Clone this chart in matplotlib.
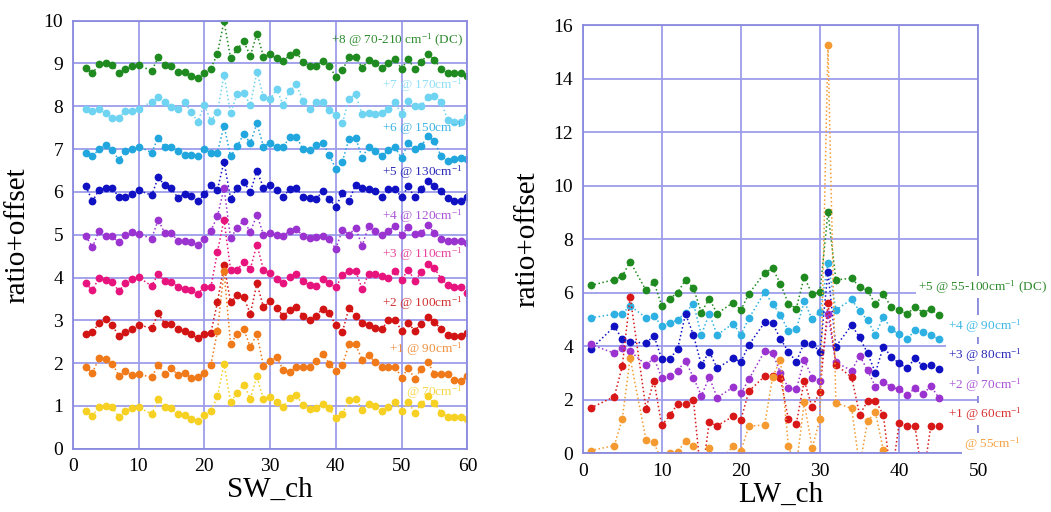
import numpy as np
import matplotlib
matplotlib.use("Agg")
import matplotlib.pyplot as plt

plt.rcParams['font.family'] = 'serif'
plt.rcParams['font.serif'] = ['Liberation Serif', 'DejaVu Serif']
plt.rcParams['mathtext.default'] = 'regular'

# ---- left panel: SW channels (11 is missing) ----
sw_ch = list(range(2, 11)) + list(range(12, 61))

sw_70_210 = [8.90, 8.77, 8.98, 9.00, 8.96, 8.77, 8.87, 8.94, 8.96,
             8.83, 9.14, 8.96, 8.94, 8.79, 8.79, 8.71, 8.67, 8.78, 8.88, 9.23, 9.99, 9.12, 9.33, 9.52, 9.17, 9.70, 9.16, 9.21,
             9.12, 9.05, 9.20, 9.26, 9.04, 8.94, 8.95, 9.06, 8.94, 8.69, 8.85, 9.14, 9.16, 8.90, 9.07, 9.00, 8.90, 9.00,
             9.10, 8.88, 9.10, 8.87, 9.03, 9.23, 9.08, 8.87, 8.78, 8.77, 8.77, 8.71]
sw_170 = [7.93, 7.89, 7.93, 7.85, 7.72, 7.72, 7.90, 7.90, 7.93,
          8.11, 8.22, 8.09, 7.99, 7.93, 8.09, 7.87, 7.64, 8.03, 7.66, 7.87, 8.73, 7.84, 8.29, 8.30, 8.03, 8.81, 8.22, 8.16,
          8.40, 8.03, 8.36, 8.51, 8.12, 7.93, 8.11, 8.09, 7.91, 7.80, 7.60, 8.18, 8.28, 7.81, 7.85, 7.81, 7.85, 7.94,
          8.09, 7.81, 8.13, 8.01, 8.01, 8.22, 8.24, 8.11, 7.68, 7.64, 7.63, 7.74]
sw_150 = [6.92, 6.83, 7.00, 7.10, 6.98, 6.75, 6.96, 7.00, 7.06,
          6.92, 7.27, 7.04, 7.04, 6.96, 6.86, 6.86, 6.83, 7.00, 6.92, 6.92, 7.55, 6.83, 7.07, 7.35, 7.14, 7.60, 7.06, 7.14,
          7.04, 7.04, 7.29, 7.29, 7.00, 6.98, 7.10, 7.15, 6.86, 6.54, 6.71, 7.24, 7.27, 6.80, 7.06, 6.96, 6.83, 6.98,
          7.04, 6.79, 7.14, 7.00, 7.07, 7.31, 7.18, 6.84, 6.73, 6.76, 6.79, 6.77]
sw_130 = [6.13, 5.78, 6.05, 6.08, 6.09, 5.88, 5.88, 5.96, 6.04,
          5.92, 6.34, 6.15, 6.08, 5.86, 5.96, 5.90, 5.78, 5.94, 6.15, 6.05, 6.71, 5.84, 6.10, 6.24, 6.00, 6.49, 6.10, 6.16,
          6.05, 5.88, 6.07, 6.09, 5.88, 5.86, 5.84, 6.01, 5.84, 5.65, 5.97, 5.78, 6.17, 6.09, 6.07, 6.01, 5.89, 6.07,
          6.07, 5.87, 6.13, 5.87, 6.07, 6.26, 6.13, 6.01, 5.86, 5.78, 5.78, 5.87]
sw_120 = [4.96, 4.71, 5.09, 4.98, 4.96, 4.82, 5.00, 5.06, 5.02,
          4.91, 5.35, 5.03, 5.03, 4.86, 4.86, 4.83, 4.77, 4.91, 5.09, 5.43, 6.09, 4.92, 5.16, 5.33, 5.06, 5.47, 5.00, 5.03,
          5.00, 4.98, 5.09, 5.14, 4.96, 4.92, 4.94, 4.96, 4.89, 4.67, 5.12, 5.00, 5.16, 4.74, 5.21, 5.08, 5.00, 5.08,
          5.20, 5.00, 5.17, 5.02, 5.04, 5.22, 5.04, 4.89, 4.85, 4.85, 4.85, 4.81]
sw_110 = [3.86, 3.70, 4.00, 3.94, 3.90, 3.68, 3.86, 3.97, 4.01,
          3.80, 4.09, 3.91, 3.90, 3.78, 3.74, 3.70, 3.62, 3.77, 3.77, 4.60, 5.35, 4.18, 4.18, 4.36, 4.20, 4.77, 4.18, 4.10,
          3.97, 3.87, 4.01, 4.08, 3.91, 3.82, 3.81, 3.97, 3.86, 3.77, 4.05, 4.16, 4.16, 3.73, 4.09, 4.09, 4.03, 3.99,
          4.15, 3.95, 4.18, 3.93, 4.12, 4.32, 4.22, 3.97, 3.83, 3.78, 3.78, 3.64]
sw_100 = [2.67, 2.73, 2.93, 3.04, 2.89, 2.63, 2.73, 2.80, 2.90,
          2.81, 3.16, 2.92, 2.92, 2.80, 2.75, 2.67, 2.58, 2.68, 2.71, 3.42, 4.29, 3.42, 3.58, 3.54, 3.15, 3.86, 3.31, 3.44,
          3.29, 3.10, 3.25, 3.31, 3.11, 3.00, 3.11, 3.27, 3.16, 2.89, 2.73, 3.29, 3.11, 2.93, 2.89, 2.82, 2.80, 3.00,
          3.00, 2.76, 2.93, 2.76, 2.92, 3.08, 2.96, 2.79, 2.65, 2.63, 2.63, 2.71]
sw_90 = [1.91, 1.78, 2.11, 2.09, 1.99, 1.71, 1.81, 1.72, 1.74,
         1.67, 1.95, 1.75, 1.88, 1.72, 1.76, 1.66, 1.67, 1.78, 1.95, 2.75, 4.15, 2.44, 2.69, 2.79, 2.38, 2.68, 1.93, 2.05,
         2.14, 1.84, 1.79, 1.92, 1.92, 1.92, 2.05, 2.22, 1.99, 1.81, 1.95, 2.44, 2.44, 2.07, 2.18, 2.02, 1.92, 1.92,
         1.92, 1.66, 1.88, 1.64, 1.87, 2.02, 1.74, 1.74, 1.74, 1.60, 1.58, 1.71]
sw_70 = [0.89, 0.77, 0.98, 1.00, 0.97, 0.75, 0.87, 0.95, 0.97,
         0.81, 1.15, 0.97, 0.95, 0.80, 0.79, 0.70, 0.65, 0.79, 0.87, 1.22, 1.99, 1.09, 1.31, 1.50, 1.17, 1.69, 1.16, 1.21,
         1.10, 0.98, 1.18, 1.25, 1.02, 0.92, 0.96, 1.04, 0.94, 0.71, 0.82, 1.14, 1.17, 0.91, 1.05, 1.00, 0.87, 0.98,
         1.10, 0.88, 1.10, 0.84, 1.04, 1.22, 1.06, 0.84, 0.74, 0.74, 0.74, 0.70]

sw_labels = ['+8 @ 70-210 cm$^{-1}$ (DC)', '+7 @ 170cm$^{-1}$', '+6 @ 150cm$^{-1}$',
             '+5 @ 130cm$^{-1}$', '+4 @ 120cm$^{-1}$', '+3 @ 110cm$^{-1}$',
             '+2 @ 100cm$^{-1}$', '+1 @ 90cm$^{-1}$', '@ 70cm$^{-1}$']
sw_label_y = [9.55, 8.5, 7.49, 6.45, 5.44, 4.55, 3.41, 2.33, 1.31]
sw_series = [sw_70_210, sw_170, sw_150, sw_130, sw_120, sw_110, sw_100, sw_90, sw_70]
sw_colors = ['#1f8a1f', '#6fd3f2', '#22a6de', '#1111c4', '#9a33cf',
             '#e8147d', '#d31414', '#f07a1a', '#f6d022']
sw_text_colors = ['#2e8b2e', '#8fdff5', '#3db3e3', '#2a2ab8', '#a955d6',
                  '#e8439a', '#d03030', '#f0903e', '#f5d646']

# ---- right panel: LW channels ----
lw_ch = [1, 4, 5, 6, 8, 9, 10, 11, 12, 13, 14, 15, 16, 17, 19, 20, 21, 23, 24, 25,
         26, 27, 28, 29, 30, 31, 32, 34, 35, 36, 37, 38, 39, 40, 41, 42, 43, 44, 45]

lw_55_100 = [6.27, 6.49, 6.62, 7.16, 6.09, 6.40, 5.51, 5.78, 6.00, 6.49, 6.17, 5.26, 5.78, 5.22, 5.63, 5.35, 5.96,
             6.74, 6.91, 6.33, 5.59, 5.41, 6.60, 5.94, 6.02, 9.02, 6.48, 6.54, 6.21, 6.09, 5.56, 5.94, 5.47,
             5.37, 5.20, 5.47, 5.26, 5.38, 5.16]
lw_90 = [5.06, 5.20, 5.22, 5.51, 5.07, 5.14, 4.75, 4.88, 4.98, 5.26, 5.59, 4.42, 5.22, 4.42, 4.85, 4.42, 5.04,
         6.02, 5.59, 5.16, 4.58, 4.63, 5.68, 5.01, 5.28, 7.11, 5.35, 5.75, 5.31, 4.98, 4.42, 5.10, 4.64,
         4.44, 4.26, 4.60, 4.52, 4.42, 4.27]
lw_80 = [3.88, 4.74, 4.27, 4.17, 4.11, 4.40, 3.52, 3.52, 3.90, 5.21, 4.42, 3.30, 3.80, 3.18, 3.55, 3.42, 4.05,
         4.89, 4.86, 4.27, 3.80, 3.42, 4.13, 4.07, 3.80, 6.79, 3.99, 4.79, 4.33, 3.74, 3.01, 3.99, 3.61,
         3.36, 3.18, 3.55, 3.26, 3.30, 3.14]
lw_70 = [4.07, 3.74, 3.92, 3.82, 3.30, 3.55, 2.83, 2.90, 3.09, 3.45, 2.83, 2.15, 2.84, 2.08, 2.47, 2.24, 2.76,
         3.82, 3.76, 3.00, 2.45, 2.39, 3.49, 2.83, 2.72, 5.19, 3.40, 3.09, 3.65, 3.11, 2.49, 2.68, 2.47,
         2.39, 2.18, 2.43, 2.20, 2.52, 2.08]
lw_60 = [1.69, 2.12, 3.25, 5.85, 1.67, 2.72, 1.04, 1.42, 1.84, 1.86, 1.99, -1.0, 1.16, 1.03, 1.38, 1.26, 2.32,
         2.88, 2.88, 2.80, 1.28, 1.10, 2.72, 1.72, 2.30, 5.60, 3.31, 2.84, 1.44, 1.94, 1.97, 1.44, -1.0,
         1.12, 1.03, 1.01, -1.0, 1.01, 1.01]
lw_55 = [0.10, 0.29, 1.28, 3.56, 0.51, 0.41, -0.3, 0.03, 0.04, 0.47, 0.29, -0.5, 0.20, -0.4, 0.26, 0.10, 1.01,
         1.06, 2.85, 3.50, 0.26, -0.5, 1.90, 0.20, 1.28, 15.25, 1.88, 1.68, -0.5, 1.20, 1.53, 0.12, np.nan,
         np.nan, np.nan, np.nan, np.nan, np.nan, np.nan]

lw_labels = ['+5 @ 55-100cm$^{-1}$ (DC)', '+4 @ 90cm$^{-1}$', '+3 @ 80cm$^{-1}$',
             '+2 @ 70cm$^{-1}$', '+1 @ 60cm$^{-1}$', '@ 55cm$^{-1}$']
lw_label_x = [42.4, 46.2, 46.2, 46.2, 46.2, 48.2]
lw_label_y = [6.21, 4.75, 3.67, 2.55, 1.47, 0.35]
lw_series = [lw_55_100, lw_90, lw_80, lw_70, lw_60, lw_55]
lw_colors = ['#1f8a1f', '#2eb1e2', '#1111c4', '#9a33cf', '#d81818', '#f59a30']
lw_text_colors = ['#2e8b2e', '#3db8e6', '#2a2ab8', '#a955d6', '#d83030', '#f5a445']

grid_color = '#9d9deb'
spine_color = '#8a8ade'


def style_axes(ax):
    ax.grid(True, color=grid_color, linewidth=1.3)
    ax.set_axisbelow(True)
    for s in ax.spines.values():
        s.set_color(spine_color)
        s.set_linewidth(1.3)
    ax.tick_params(length=0, labelsize=14, pad=7)


fig = plt.figure(figsize=(10.51, 5.12), dpi=100)

# left
ax1 = fig.add_axes([0.0692, 0.1236, 0.3755, 0.836])
for ys, c in zip(sw_series, sw_colors):
    ax1.plot(sw_ch, ys, linestyle=':', linewidth=1.1, color=c,
             marker='o', markersize=5.6, markeredgewidth=0)
for lab, y, c in zip(sw_labels, sw_label_y, sw_text_colors):
    ax1.text(59.3, y, lab, color=c, fontsize=9.5, ha='right', va='center')
ax1.set_xlim(0, 60)
ax1.set_ylim(0, 10)
ax1.set_xticks(range(0, 61, 10))
ax1.set_yticks(range(0, 11, 1))
style_axes(ax1)
ax1.set_xlabel('SW_ch', fontsize=21, labelpad=1)
ax1.set_ylabel('ratio+offset', fontsize=21, labelpad=9)

# right
ax2 = fig.add_axes([0.5544, 0.1146, 0.3764, 0.8365])
for ys, c in zip(lw_series, lw_colors):
    ax2.plot(lw_ch, ys, linestyle=':', linewidth=1.1, color=c,
             marker='o', markersize=5.6, markeredgewidth=0)
for lab, x, y, c in zip(lw_labels, lw_label_x, lw_label_y, lw_text_colors):
    ax2.text(x, y, lab, color=c, fontsize=9.5, ha='left', va='center', clip_on=False,
             bbox=dict(facecolor='white', edgecolor='none', pad=1.5))
ax2.set_xlim(0, 50)
ax2.set_ylim(0, 16)
ax2.set_xticks(range(0, 51, 10))
ax2.set_yticks(range(0, 17, 2))
style_axes(ax2)
ax2.set_xlabel('LW_ch', fontsize=21, labelpad=1)
ax2.set_ylabel('ratio+offset', fontsize=21, labelpad=9)

fig.savefig('out.png', dpi=100, facecolor='white')
